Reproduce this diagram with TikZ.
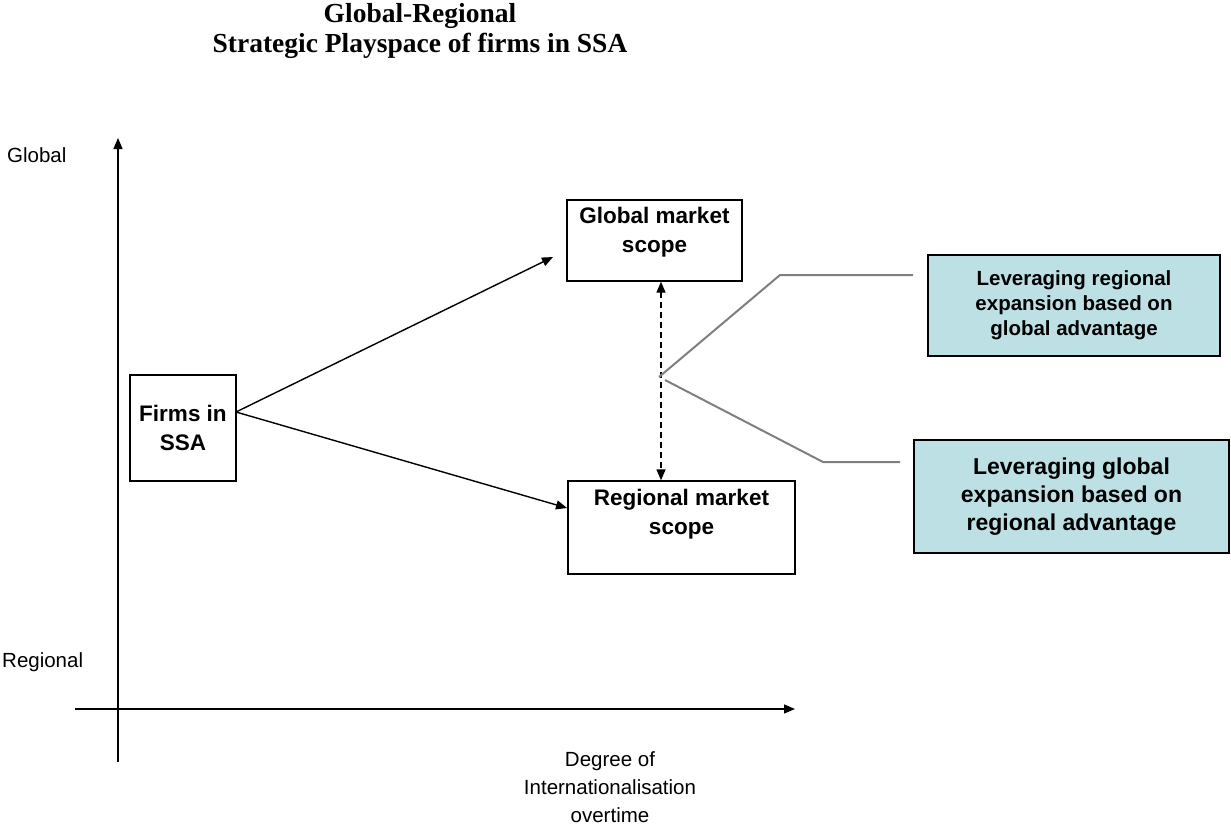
\documentclass[tikz,border=0pt]{standalone}
\usepackage{fontspec}
\setmainfont{Liberation Serif}
\setsansfont{Liberation Sans}
\usetikzlibrary{arrows.meta}
\definecolor{tealfill}{HTML}{BCE0E3}
\definecolor{connGray}{HTML}{7F7F7F}
\tikzset{
  tip/.style={-{Triangle[length=11pt,width=9pt]}},
  axisline/.style={line width=1.4pt, tip},
  conn/.style={line width=1.4pt, tip},
  dconn/.style={line width=1.4pt, dash pattern=on 6pt off 4pt, {Triangle[length=11pt,width=9pt]}-{Triangle[length=11pt,width=9pt]}},
  grayline/.style={line width=2pt, connGray},
  plainbox/.style={draw, line width=1.4pt, fill=white, inner sep=0pt},
  tealbox/.style={draw, line width=1.4pt, fill=tealfill, inner sep=0pt, align=center, font=\sffamily\bfseries},
  boxtext/.style={align=center, inner sep=0pt, font=\sffamily\bfseries\fontsize{22.5}{29}\selectfont},
  axlabel/.style={inner sep=0pt, font=\sffamily\fontsize{20.5}{28}\selectfont, align=center},
  titlestyle/.style={inner sep=0pt, align=center, font=\rmfamily\bfseries\fontsize{27.5}{30}\selectfont}
}
\begin{document}
\begin{tikzpicture}[x=1pt,y=-1pt]
\useasboundingbox (0,0) rectangle (1231,827);
% title
\node[titlestyle] (title) at (420,31) {Global-Regional\\Strategic Playspace of firms in SSA};
% axes
\coordinate (yb) at (118,762);
\coordinate (yt) at (118,138);
\coordinate (xl) at (75,709);
\coordinate (xr) at (795,709);
\draw[axisline] (yb) -- (yt);
\draw[axisline] (xl) -- (xr);
\node[axlabel, anchor=west] (glab) at (7,155) {Global};
\node[axlabel, anchor=west] (rlab) at (2,662) {Regional};
\node[axlabel] (xlab) at (610,787) {Degree of\\Internationalisation\\overtime};
% boxes
\node[plainbox, minimum width=106pt, minimum height=106pt, boxtext] (firms) at (183,428) {Firms in\\SSA};
\node[plainbox, minimum width=175pt, minimum height=81pt] (glob) at (654.5,240.5) {};
\node[boxtext] (globt) at (654.5,232) {Global market\\scope};
\node[plainbox, minimum width=227pt, minimum height=93pt] (reg) at (681.5,527.5) {};
\node[boxtext] (regt) at (681.5,514) {Regional market\\scope};
\node[tealbox, minimum width=292pt, minimum height=101pt, font=\sffamily\bfseries\fontsize{20.5}{25}\selectfont] (t1) at (1074,305.5) {Leveraging regional\\expansion based on\\global advantage};
\node[tealbox, minimum width=315pt, minimum height=113pt, font=\sffamily\bfseries\fontsize{23}{28}\selectfont] (t2) at (1071.5,496.5) {Leveraging global\\expansion based on\\regional advantage};
% connectors
\coordinate (fo) at (236,412);
\coordinate (gtip) at (553,257);
\coordinate (rtip) at (567,508);
\draw[conn] (fo) -- (gtip);
\draw[conn] (fo) -- (rtip);
\coordinate (dx) at (661,0);
\draw[dconn] (glob.south -| dx) -- (reg.north -| dx);
\coordinate (p1) at (659,377);
\coordinate (c1) at (780,275);
\coordinate (e1) at (913,275);
\coordinate (p2) at (665,380);
\coordinate (c2) at (823,462);
\coordinate (e2) at (900,462);
\draw[grayline] (p1) -- (c1) -- (e1);
\draw[grayline] (p2) -- (c2) -- (e2);
\end{tikzpicture}
\end{document}
